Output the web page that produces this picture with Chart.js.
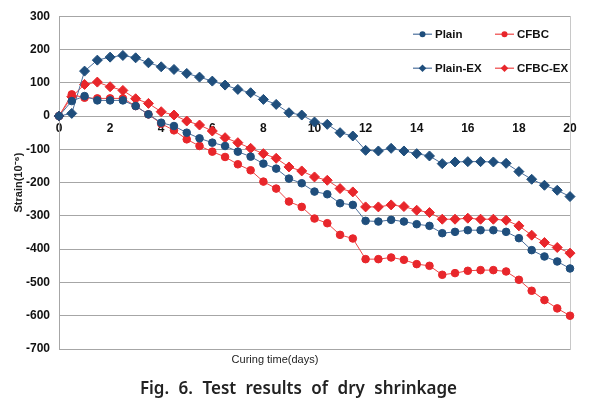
<!DOCTYPE html>
<html><head><meta charset="utf-8">
<script src="https://cdn.jsdelivr.net/npm/chart.js@4.4.1/dist/chart.umd.min.js"></script>
<style>
html,body{margin:0;padding:0;background:#fff;}
#wrap{position:relative;width:595px;height:410px;}
#xt{position:absolute;left:0;width:550px;top:353px;text-align:center;font:11px "Liberation Sans Narrow","Liberation Sans",sans-serif;color:#222;}
#cap{position:absolute;left:0;width:597px;top:376px;text-align:center;font:600 17px "Noto Sans",sans-serif;color:#222;word-spacing:5px;}
</style></head>
<body><div id="wrap"><canvas id="c" width="595" height="410"></canvas>
<div id="xt">Curing time(days)</div>
<div id="cap">Fig. 6. Test results of dry shrinkage</div></div>
<script>
const days = [0,0.5,1,1.5,2,2.5,3,3.5,4,4.5,5,5.5,6,6.5,7,7.5,8,8.5,9,9.5,10,10.5,11,11.5,12,12.5,13,13.5,14,14.5,15,15.5,16,16.5,17,17.5,18,18.5,19,19.5,20];
const plain = [0,45,60,47,47,47,30,5,-20,-30,-50,-67,-80,-90,-107,-122,-143,-158,-188,-202,-227,-235,-262,-267,-315,-317,-312,-317,-325,-330,-352,-348,-343,-343,-343,-348,-367,-403,-422,-437,-458];
const cfbc = [0,65,55,53,53,53,30,5,-23,-43,-70,-90,-107,-123,-145,-163,-197,-218,-257,-273,-308,-322,-357,-368,-430,-430,-425,-432,-445,-450,-477,-472,-465,-463,-463,-467,-492,-525,-553,-578,-600];
const plainEx = [0,8,135,168,177,182,175,160,148,140,128,117,105,93,80,70,50,35,10,3,-18,-25,-50,-60,-103,-105,-97,-105,-113,-120,-143,-138,-137,-137,-138,-142,-167,-190,-208,-223,-242];
const cfbcEx = [0,58,95,102,88,77,52,38,13,3,-15,-27,-45,-65,-80,-97,-113,-127,-153,-165,-183,-193,-218,-228,-273,-273,-267,-272,-283,-290,-310,-310,-307,-310,-310,-313,-330,-358,-380,-395,-412];
const seriesNames = ["Plain","CFBC","Plain-EX","CFBC-EX"];
const yTicks = [300,200,100,0,-100,-200,-300,-400,-500,-600,-700];

const BLUE = "#1F4E7C", BLUE_L = "#4B6F9C", RED = "#E8262B", RED_L = "#EE4444";
const GRID = "#A6A6A6";
function pts(arr){ return arr.map((v,i)=>({x:days[i], y:v})); }
function ds(label, arr, mk, ln, style, r){
  return {label, data:pts(arr), borderColor:ln, backgroundColor:mk, pointBackgroundColor:mk,
    pointBorderColor:mk, pointStyle:style, pointRadius:r, pointBorderWidth:1, borderWidth:1,
    tension:0, clip:false, pointHoverRadius:r};
}
const datasets = [
  ds(seriesNames[0], plain, BLUE, BLUE_L, 'circle', 3.8),
  ds(seriesNames[1], cfbc, RED, RED_L, 'circle', 3.8),
  ds(seriesNames[2], plainEx, BLUE, BLUE_L, 'rectRot', 5),
  ds(seriesNames[3], cfbcEx, RED, RED_L, 'rectRot', 5)
];

const legendPlugin = {
  id:'customLegend',
  afterDatasetsDraw(chart){
    const ctx = chart.ctx, a = chart.chartArea;
    const cols = [a.right-157, a.right-75];
    const rows = [a.top+18, a.top+52];
    chart.data.datasets.forEach((d,i)=>{
      const x = cols[i%2], y = rows[Math.floor(i/2)];
      ctx.save();
      ctx.strokeStyle = d.borderColor; ctx.lineWidth = 1.2;
      ctx.beginPath(); ctx.moveTo(x, y); ctx.lineTo(x+19, y); ctx.stroke();
      ctx.fillStyle = d.pointBackgroundColor; ctx.strokeStyle = d.pointBorderColor;
      ctx.beginPath();
      if(d.pointStyle==='circle'){ ctx.arc(x+9.5,y,3,0,Math.PI*2);} else {ctx.moveTo(x+9.5,y-3.8);ctx.lineTo(x+13.3,y);ctx.lineTo(x+9.5,y+3.8);ctx.lineTo(x+5.7,y);ctx.closePath();}
      ctx.fill();
      ctx.fillStyle = "#111"; ctx.font = "bold 11.5px 'Liberation Sans', Arial, sans-serif";
      ctx.textBaseline = "middle"; ctx.textAlign = "left";
      ctx.fillText(d.label, x+22, y+0.5);
      ctx.restore();
    });
  }
};

new Chart(document.getElementById('c'), {
  type:'line',
  data:{datasets},
  plugins:[legendPlugin],
  options:{
    responsive:false, animation:false, devicePixelRatio:1,
    layout:{padding:{left:0,right:25,top:15,bottom:61}},
    plugins:{legend:{display:false}, tooltip:{enabled:false}},
    scales:{
      x:{type:'linear', axis:'x', position:{y:0}, min:0, max:20,
        ticks:{stepSize:2, padding:5, color:"#111", font:{family:"'Liberation Sans', Arial, sans-serif", size:12, weight:'bold'}, maxRotation:0},
        grid:{display:false, drawTicks:false},
        border:{display:true, color:GRID, width:1}},
      y:{type:'linear', position:'left', min:-700, max:300,
        afterBuildTicks(s){ s.ticks = yTicks.map(v=>({value:v})); },
        afterFit(s){ s.width = 59; },
        ticks:{padding:9, color:"#111", font:{family:"'Liberation Sans', Arial, sans-serif", size:12, weight:'bold'}},
        grid:{color:GRID, lineWidth:1, drawTicks:false},
        border:{display:true, color:GRID, width:1},
        title:{display:true, text:"Strain(10⁻⁶)", color:"#222", padding:{top:12,bottom:0}, font:{family:"'Liberation Sans', Arial, sans-serif", size:11, weight:'bold'}}},
      y2:{type:'linear', position:'right', min:-700, max:300,
        afterFit(s){ s.width = 0; },
        ticks:{display:false}, grid:{display:false, drawTicks:false},
        border:{display:true, color:"#C8C8C8", width:1}}
    }
  }
});
</script></body></html>
